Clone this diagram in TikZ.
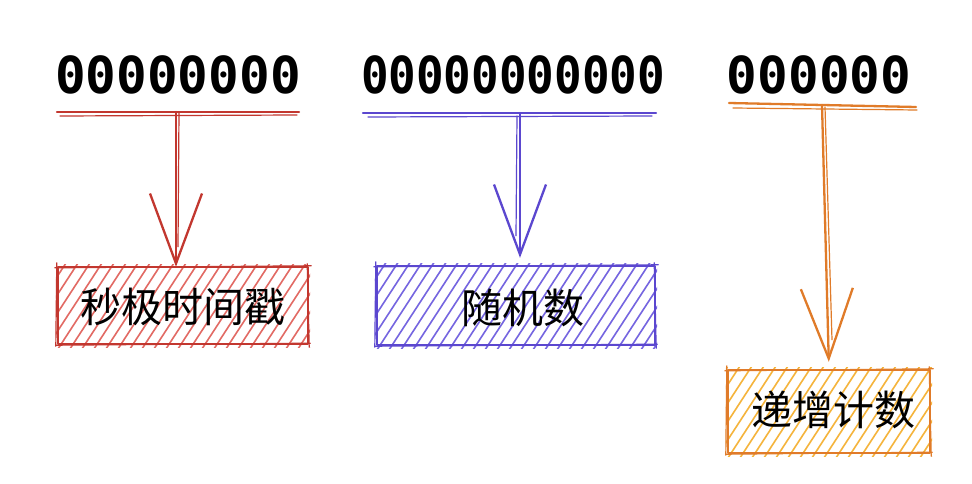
\documentclass[tikz,border=0pt]{standalone}
\usepackage{fontspec}
\newfontfamily\monof{DejaVu Sans Mono}
\newfontfamily\cjk{Noto Sans CJK SC}
\usetikzlibrary{arrows.meta,calc}
\definecolor{rs}{HTML}{C2372F}
\definecolor{rh}{HTML}{E26A64}
\definecolor{ps}{HTML}{5B47CF}
\definecolor{ph}{HTML}{7565E0}
\definecolor{os}{HTML}{E07B29}
\definecolor{oh}{HTML}{F5B43C}
\tikzset{
  digits/.style={font=\monof\bfseries\fontsize{51}{60}\selectfont, inner sep=0pt, anchor=base, text=black},
  lbl/.style={font=\cjk\fontsize{41}{48}\selectfont, inner sep=0pt, text=black},
  boxnode/.style={rectangle, inner sep=0pt, draw=none},
  stroke/.style={line width=2.3pt, line cap=round, line join=round},
  thin stroke/.style={line width=1.2pt, line cap=round, line join=round},
  hatch/.style={line width=1.6pt, line cap=round},
  arr/.style={stroke, -{Straight Barb[length=70pt,width=52pt,line width=2.3pt]}},
}
\newcommand{\sketchbox}[3]{%
  \begin{scope}
    \clip ($(#1.north west)+(-2,-2)$) rectangle ($(#1.south east)+(2,3)$);
    \foreach \i in {-72,-60,...,300}
      \draw[hatch,#3] ($(#1.south west)+(\i,5)$) -- ++(60,-92);
  \end{scope}
  \draw[stroke,#2] (#1.north west) -- (#1.north east) -- (#1.south east) -- (#1.south west) -- cycle;
  \draw[thin stroke,#2] ($(#1.north west)+(-3,1)$) -- ($(#1.north east)+(3,-1)$);
  \draw[thin stroke,#2] ($(#1.north east)+(-1,-3)$) -- ($(#1.south east)+(1,3)$);
  \draw[thin stroke,#2] ($(#1.south east)+(2,-1)$) -- ($(#1.south west)+(-2,1)$);
  \draw[thin stroke,#2] ($(#1.south west)+(-2,2)$) -- ($(#1.north west)+(-1,-4)$);
}
\begin{document}
\begin{tikzpicture}[x=1pt,y=-1pt]
\useasboundingbox (0,0) rectangle (972,484);
\fill[white] (0,0) rectangle (972,484);

% digit groups
\node[digits] (d1) at (178,94) {00000000};
\node[digits] (d2) at (513,94) {\scalebox{0.9}[1]{00000000000}};
\node[digits] (d3) at (819,94) {000000};

% bracket lines under digits
\draw[stroke,rs] (57,112) -- (299,112);
\draw[thin stroke,rs] (60,116) -- (297,115);
\draw[stroke,ps] (363,113) -- (656,113);
\draw[thin stroke,ps] (368,117) -- (652,116);
\draw[stroke,os] (729,103) -- (916,107);
\draw[thin stroke,os] (733,108) -- (917,110);

\coordinate (rt) at (176,112);
\coordinate (pt) at (520,113);
\coordinate (ot) at (822,105);

% boxes
\node[boxnode, minimum width=250pt, minimum height=77pt] (b1) at (183,305.5) {};
\node[boxnode, minimum width=278pt, minimum height=79pt] (b2) at (516,305.5) {};
\node[boxnode, minimum width=202pt, minimum height=83pt] (b3) at (829,411.5) {};

\sketchbox{b1}{rs}{rh}
\sketchbox{b2}{ps}{ph}
\sketchbox{b3}{os}{oh}

\node[lbl] (t1) at (183,307) {秒极时间戳};
\node[lbl] (t2) at (523,308) {随机数};
\node[lbl] (t3) at (833,410) {递增计数};

% arrows
\draw[arr,rs] (rt) -- (rt |- b1.north);
\draw[thin stroke,rs] ($(rt)+(3,0)$) -- ($(rt |- b1.north)+(2,-20)$);
\draw[arr,ps,shorten >=8pt] (pt) -- (pt |- b2.north);
\draw[thin stroke,ps] ($(pt)+(-3,3)$) -- ($(pt |- b2.north)+(-4,-30)$);
\draw[arr,os,shorten >=8pt] (ot) -- (b3.north);
\draw[thin stroke,os] ($(ot)+(3,2)$) -- ($(b3.north)+(3,-30)$);
\end{tikzpicture}
\end{document}
